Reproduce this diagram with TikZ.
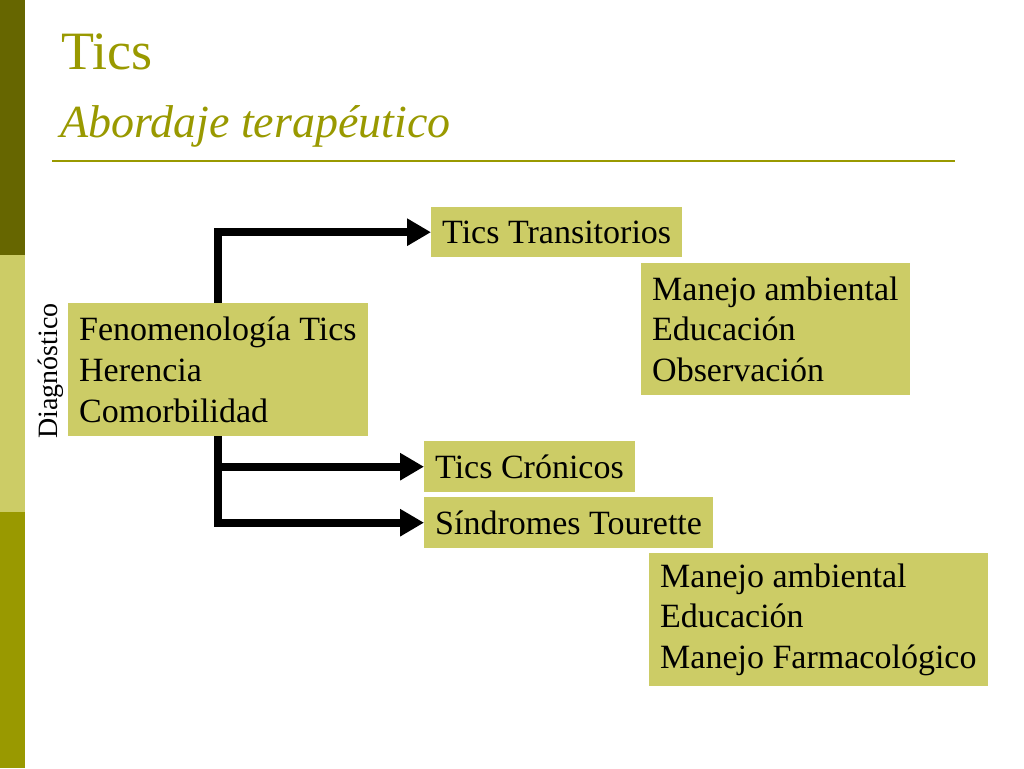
\documentclass[tikz,border=0pt]{standalone}
\usepackage{fontspec}
\setmainfont{Liberation Serif}
\usepackage{tikz}
\usetikzlibrary{positioning,arrows.meta}
\definecolor{olivedark}{HTML}{666600}
\definecolor{olivemid}{HTML}{999900}
\definecolor{olivelight}{HTML}{CCCC66}
\tikzset{
  termbox/.style={rectangle, fill=olivelight, inner xsep=11pt, inner ysep=0pt, align=left,
                  anchor=north west, font=\fontsize{34}{40.8}\selectfont},
  fwd/.style={-{Triangle[length=24pt,width=26pt]}, line width=8pt},
  titletext/.style={anchor=base west, inner sep=0pt, text=olivemid},
}

\begin{document}
\begin{tikzpicture}[x=1pt, y=-1pt]
  \useasboundingbox (0,0) rectangle (1024,768);
  % side bar
  \fill[olivedark] (0,0) rectangle (25,255);
  \fill[olivelight] (0,255) rectangle (25,512);
  \fill[olivemid] (0,512) rectangle (25,768);

  \node[titletext, font=\fontsize{54}{60}\selectfont] (title) at (61,70) {Tics};
  \node[titletext, font=\fontsize{46}{52}\selectfont\itshape] (subtitle) at (60,137) {Abordaje terapéutico};
  \draw[olivemid, line width=2pt] (52,161) -- (955,161);

  \node[termbox, minimum height=133pt] (fen) at (68,303) {Fenomenología Tics\\Herencia\\Comorbilidad};
  \node[rotate=90, inner sep=0pt, font=\fontsize{28}{30}\selectfont] (diag) at (51,371) {Diagnóstico};
  \node[termbox, minimum height=50pt] (transit) at (431,207) {Tics Transitorios};
  \node[termbox, minimum height=132pt] (manejo1) at (641,263) {Manejo ambiental\\Educación\\Observación};
  \node[termbox, minimum height=51pt] (cronic) at (424,441) {Tics Crónicos};
  \node[termbox, minimum height=51pt] (tourette) at (424,497) {Síndromes Tourette};
  \node[termbox, minimum height=133pt] (manejo2) at (649,553) {Manejo ambiental\\Educación\\Manejo Farmacológico};

  \draw[fwd] (fen.north) |- (transit.west);
  \draw[fwd] (fen.south) |- (cronic.west);
  \draw[fwd] (fen.south) |- (tourette.west);

\end{tikzpicture}
\end{document}
